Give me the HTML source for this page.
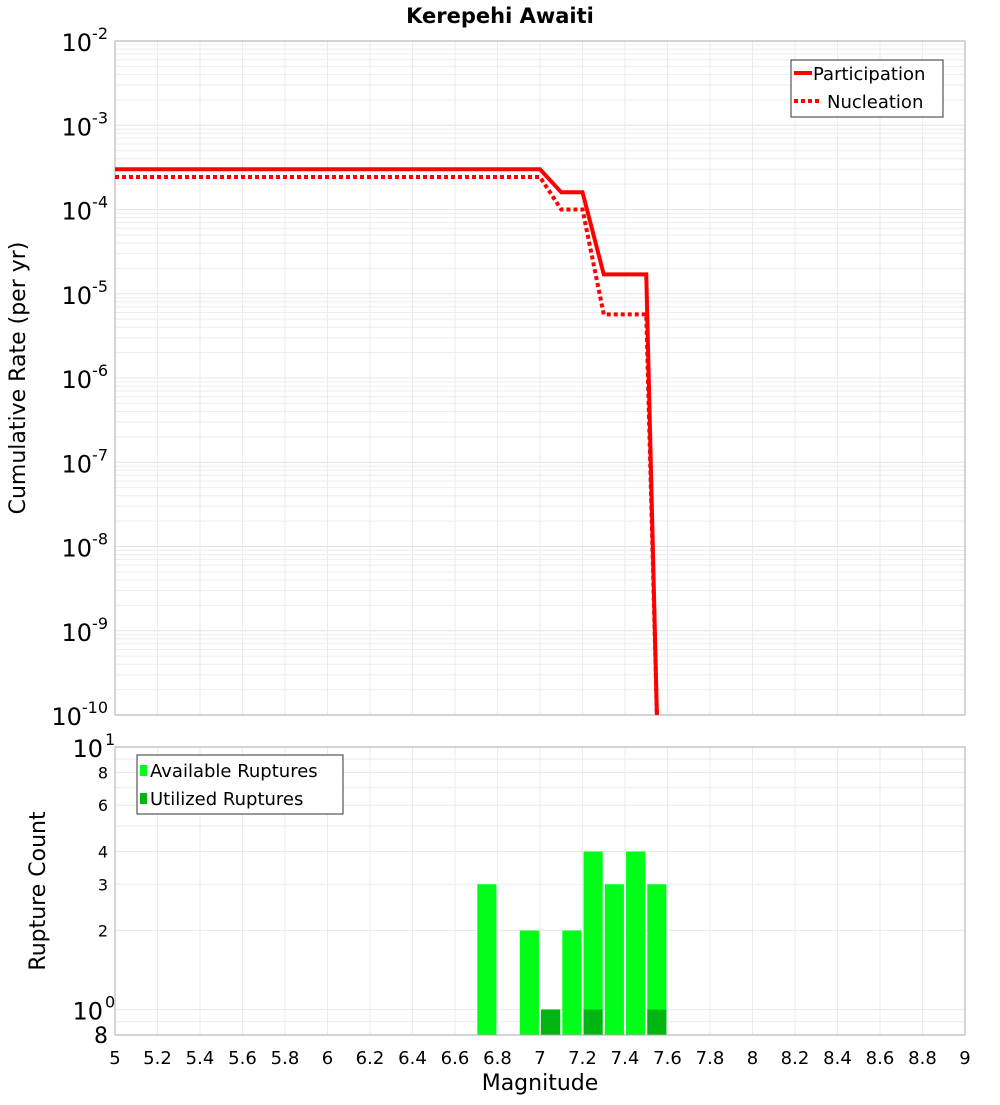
<!DOCTYPE html>
<html><head><meta charset="utf-8"><style>
body{margin:0;background:#fff;}
svg text{font-family:"DejaVu Sans","Liberation Sans",sans-serif;}
</style></head><body>
<svg id="c" width="1000" height="1100" xmlns="http://www.w3.org/2000/svg">
<text x="500" y="23" text-anchor="middle" font-size="21" font-weight="bold">Kerepehi Awaiti</text>
<g id="topg"></g><g id="botg"></g>
</svg>
<script>
const NS="http://www.w3.org/2000/svg";
// data
const magBins=[5.0,7.0,7.1,7.2,7.3,7.4,7.5,7.55];
const participation=[3.0e-4,3.0e-4,1.6e-4,1.6e-4,1.7e-5,1.7e-5,1.7e-5,1e-12];
const nucleation=[2.43e-4,2.43e-4,1.0e-4,1.0e-4,5.7e-6,5.7e-6,5.7e-6,1e-12];
const histCenters=[6.75,6.95,7.05,7.15,7.25,7.35,7.45,7.55];
const availableCounts=[3,2,1,2,4,3,4,3];
const utilizedCounts=[0,0,1,0,1,0,0,1];
const xTicks=[5,5.2,5.4,5.6,5.8,6,6.2,6.4,6.6,6.8,7,7.2,7.4,7.6,7.8,8,8.2,8.4,8.6,8.8,9];
const topExps=[-10,-9,-8,-7,-6,-5,-4,-3,-2];
const botTicks=[2,3,4,6,8];

const L=115,R=965,T1=41,B1=715,T2=747,B2=1035;
const xs=m=>L+(m-5)/(9-5)*(R-L);
const y1=v=>{let l=Math.log10(v);l=Math.max(l,-10.5);return T1+(-2-l)/8*(B1-T1);};
const y2=v=>T2+(1-Math.log10(v))/(1-Math.log10(0.8))*(B2-T2);
const topG=document.getElementById('topg'),botG=document.getElementById('botg');
function mk(p,tag,a,txt){const e=document.createElementNS(NS,tag);for(const k in a)e.setAttribute(k,a[k]);if(txt!==undefined)e.textContent=txt;p.appendChild(e);return e;}

// top grid
for(let e=-10;e<-2;e++)for(let k=1;k<10;k++){const y=y1(k*Math.pow(10,e));
const g=mk(topG,'line',{x1:L,x2:R,y1:y,y2:y,stroke:k==1?'#e4e4e4':'#eeeeee','stroke-width':1});

}
for(const t of xTicks){for(const [p,a,b] of [[topG,T1,B1],[botG,T2,B2]]){
const g=mk(p,'line',{x1:xs(t),x2:xs(t),y1:a,y2:b,stroke:'#ebebeb'});

}}
// top y labels
for(const e of topExps){const y=y1(Math.pow(10,e));
const t=mk(topG,'text',{x:108,y:y+10,'text-anchor':'end','font-size':24});


t.textContent='10';mk(t,'tspan',{dy:-12,'font-size':16},String(e));}
mk(topG,'rect',{x:L,y:T1,width:R-L,height:B1-T1,fill:'none',stroke:'#aaa'});
// series
function line(vals,dash,name){let d='';magBins.forEach((m,i)=>{d+=(i?'L':'M')+xs(m)+','+Math.min(y1(vals[i]),B1);});
const p=mk(topG,'path',{d:d,fill:'none',stroke:'#ff0000','stroke-width':4,'stroke-dasharray':dash||'none'});

}
line(nucleation,'4,3','nucleation-line');line(participation,null,'participation-line');
// top legend
const lg=mk(topG,'g',{});


mk(lg,'rect',{x:791,y:60,width:152,height:57,fill:'#fff',stroke:'#333'});
mk(lg,'line',{x1:794,x2:812,y1:73,y2:73,stroke:'red','stroke-width':4});
mk(lg,'text',{x:813,y:80,'font-size':18},'Participation');
mk(lg,'line',{x1:794,x2:822,y1:101,y2:101,stroke:'red','stroke-width':4,'stroke-dasharray':'4,3'});
mk(lg,'text',{x:827,y:108,'font-size':18},'Nucleation');
const yt=mk(topG,'text',{x:0,y:0,'font-size':22,'text-anchor':'middle',transform:'translate(25,378) rotate(-90)'},'Cumulative Rate (per yr)');



// bottom grid
for(const v of [0.8,0.9,1,2,3,4,5,6,7,8,9]){const y=y2(v);
const g=mk(botG,'line',{x1:L,x2:R,y1:y,y2:y,stroke:'#ebebeb'});

}
// bars
histCenters.forEach((c,i)=>{const x=xs(c-0.045),w=xs(c+0.045)-xs(c-0.045);
if(availableCounts[i]>0){const r=mk(botG,'rect',{x:x,y:y2(availableCounts[i]),width:w,height:B2-y2(availableCounts[i]),fill:'#00ff18'});

}
if(utilizedCounts[i]>0){const r=mk(botG,'rect',{x:x,y:y2(utilizedCounts[i]),width:w,height:B2-y2(utilizedCounts[i]),fill:'#00b412'});

}});
mk(botG,'rect',{x:L,y:T2,width:R-L,height:B2-T2,fill:'none',stroke:'#aaa'});
for(const v of botTicks){const t=mk(botG,'text',{x:108,y:y2(v)+6,'text-anchor':'end','font-size':16},String(v));

}
for(const [v,e] of [[10,'1'],[1,'0']]){const t=mk(botG,'text',{x:103,y:y2(v)+10,'text-anchor':'end','font-size':24},'10');


mk(botG,'text',{x:105,y:y2(v)-2,'font-size':16},e);}
mk(botG,'text',{x:108,y:B2+8,'text-anchor':'end','font-size':22},'8');
for(const t of xTicks){const e=mk(botG,'text',{x:xs(t),y:1064,'text-anchor':'middle','font-size':18},String(t));

}
const xt=mk(botG,'text',{x:540,y:1090,'text-anchor':'middle','font-size':22},'Magnitude');


const yt2=mk(botG,'text',{x:0,y:0,'font-size':22,'text-anchor':'middle',transform:'translate(45,891) rotate(-90)'},'Rupture Count');


const lg2=mk(botG,'g',{});


mk(lg2,'rect',{x:137,y:755,width:206,height:59,fill:'#fff',stroke:'#333'});
mk(lg2,'rect',{x:140,y:765,width:7,height:11,fill:'#00ff18'});
mk(lg2,'text',{x:150,y:777,'font-size':18},'Available Ruptures');
mk(lg2,'rect',{x:140,y:793,width:7,height:11,fill:'#00b412'});
mk(lg2,'text',{x:150,y:805,'font-size':18},'Utilized Ruptures');
</script>
</body></html>
